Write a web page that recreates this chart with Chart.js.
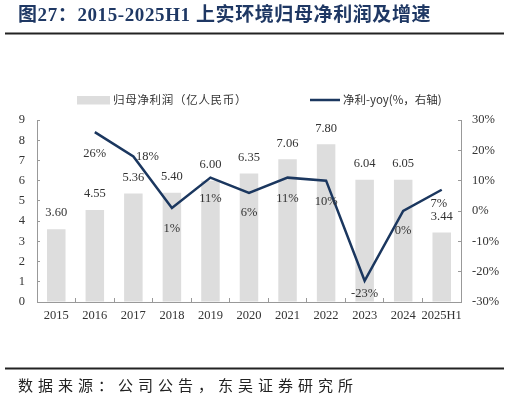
<!DOCTYPE html>
<html>
<head>
<meta charset="utf-8">
<script src="https://cdn.jsdelivr.net/npm/chart.js@4/dist/chart.umd.min.js"></script>
<style>
html, body { margin: 0; padding: 0; background: #fff; }
#wrap { position: relative; width: 509px; height: 402px; }
</style>
</head>
<body>
<div id="wrap"><canvas id="chart"></canvas></div>
<script>
// 数据
const years = ['2015', '2016', '2017', '2018', '2019', '2020', '2021', '2022', '2023', '2024', '2025H1'];
const profit = [3.60, 4.55, 5.36, 5.40, 6.00, 6.35, 7.06, 7.80, 6.04, 6.05, 3.44];
const yoy = [null, 26, 18, 1, 11, 6, 11, 10, -23, 0, 7];

const titleText = '图27：2015-2025H1 上实环境归母净利润及增速';
const sourceText = '数据来源：公司公告，东吴证券研究所';
const barLegend = '归母净利润（亿人民币）';
const lineLegend = '净利-yoy(%，右轴)';

// 标签位置 (样式)
const yoyLabelDy = [0, 22, 0, 21, 21, 20, 21, 21, 13, 20, 14];
const yoyLabelDx = [0, 0, 14, 0, 0, 0, 0, 0, 0, 0, -3];

const SERIF = '"Liberation Serif", "Noto Sans CJK SC", serif';
const CJK = '"Noto Sans CJK SC", "Liberation Serif", sans-serif';
const NAVY = '#1b375f';
const BAR = '#dddddd';
const AXIS = '#999999';
const TEXT = '#333333';

const decor = {
    id: 'decor',
    afterDraw(chart) {
        const ctx = chart.ctx;
        ctx.save();
        // 标题
        ctx.fillStyle = '#1f3864';
        ctx.font = 'bold 19px ' + SERIF;
        ctx.letterSpacing = '0.6px';
        ctx.textBaseline = 'middle';
        ctx.textAlign = 'left';
        ctx.fillText(titleText, 18, 16);
        // 线
        ctx.fillStyle = '#222';
        ctx.fillRect(5, 32.5, 499, 2);
        ctx.fillRect(5, 367.5, 499, 2);
        // 来源
        ctx.fillStyle = '#222';
        ctx.font = '15px ' + CJK;
        ctx.letterSpacing = '5px';
        ctx.fillText(sourceText, 18, 385);
        // 图例
        ctx.font = '11.5px ' + CJK;
        ctx.letterSpacing = '0.7px';
        ctx.fillStyle = BAR;
        ctx.fillRect(77, 96, 33, 8.5);
        ctx.fillStyle = TEXT;
        ctx.fillText(barLegend, 113, 100);
        ctx.strokeStyle = NAVY;
        ctx.lineWidth = 2.5;
        ctx.beginPath();
        ctx.moveTo(310, 100);
        ctx.lineTo(340, 100);
        ctx.stroke();
        ctx.letterSpacing = '0px';
        ctx.fillText(lineLegend, 343, 100);
        ctx.restore();
    }
};

const dataLabels = {
    id: 'dataLabels',
    afterDatasetsDraw(chart) {
        const ctx = chart.ctx;
        ctx.save();
        ctx.font = '12.5px ' + SERIF;
        ctx.fillStyle = TEXT;
        ctx.textAlign = 'center';
        ctx.textBaseline = 'middle';
        chart.getDatasetMeta(1).data.forEach((bar, i) => {
            ctx.fillText(profit[i].toFixed(2), bar.x, bar.y - 16);
        });
        chart.getDatasetMeta(0).data.forEach((pt, i) => {
            if (yoy[i] === null) return;
            ctx.fillText(Math.round(yoy[i]) + '%', pt.x + yoyLabelDx[i], pt.y + yoyLabelDy[i]);
        });
        ctx.restore();
    }
};

new Chart(document.getElementById('chart'), {
    data: {
        labels: years,
        datasets: [
            {
                type: 'line',
                label: lineLegend,
                data: yoy,
                yAxisID: 'y1',
                borderColor: NAVY,
                backgroundColor: NAVY,
                borderWidth: 2.5,
                pointRadius: 0,
                tension: 0,
                order: 0
            },
            {
                type: 'bar',
                label: barLegend,
                data: profit,
                yAxisID: 'y',
                backgroundColor: BAR,
                categoryPercentage: 1,
                barPercentage: 0.48,
                order: 1
            }
        ]
    },
    options: {
        responsive: true,
        maintainAspectRatio: false,
        animation: false,
        layout: { padding: { top: 120, left: 0, right: 0, bottom: 0 } },
        plugins: {
            legend: { display: false },
            tooltip: { enabled: false }
        },
        scales: {
            x: {
                offset: true,
                grid: { drawOnChartArea: false, drawTicks: true, tickLength: -4, color: AXIS, offset: true },
                border: { color: AXIS, width: 1 },
                ticks: { padding: 10, color: TEXT, font: { family: SERIF, size: 12.5 }, maxRotation: 0, autoSkip: false },
                afterFit: s => { s.height = 100; }
            },
            y: {
                position: 'left',
                min: 0,
                max: 9,
                ticks: { stepSize: 1, padding: 15, color: TEXT, font: { family: SERIF, size: 12.5 } },
                grid: { drawOnChartArea: false, drawTicks: true, tickLength: -3, color: AXIS },
                border: { color: AXIS, width: 1 },
                afterFit: s => { s.width = 37; }
            },
            y1: {
                position: 'right',
                min: -30,
                max: 30,
                ticks: { stepSize: 10, padding: 14, color: TEXT, font: { family: SERIF, size: 12.5 }, callback: v => v + '%' },
                grid: { drawOnChartArea: false, drawTicks: true, tickLength: -3, color: AXIS },
                border: { color: AXIS, width: 1 },
                afterFit: s => { s.width = 48; }
            }
        }
    },
    plugins: [decor, dataLabels]
});
</script>
</body>
</html>
